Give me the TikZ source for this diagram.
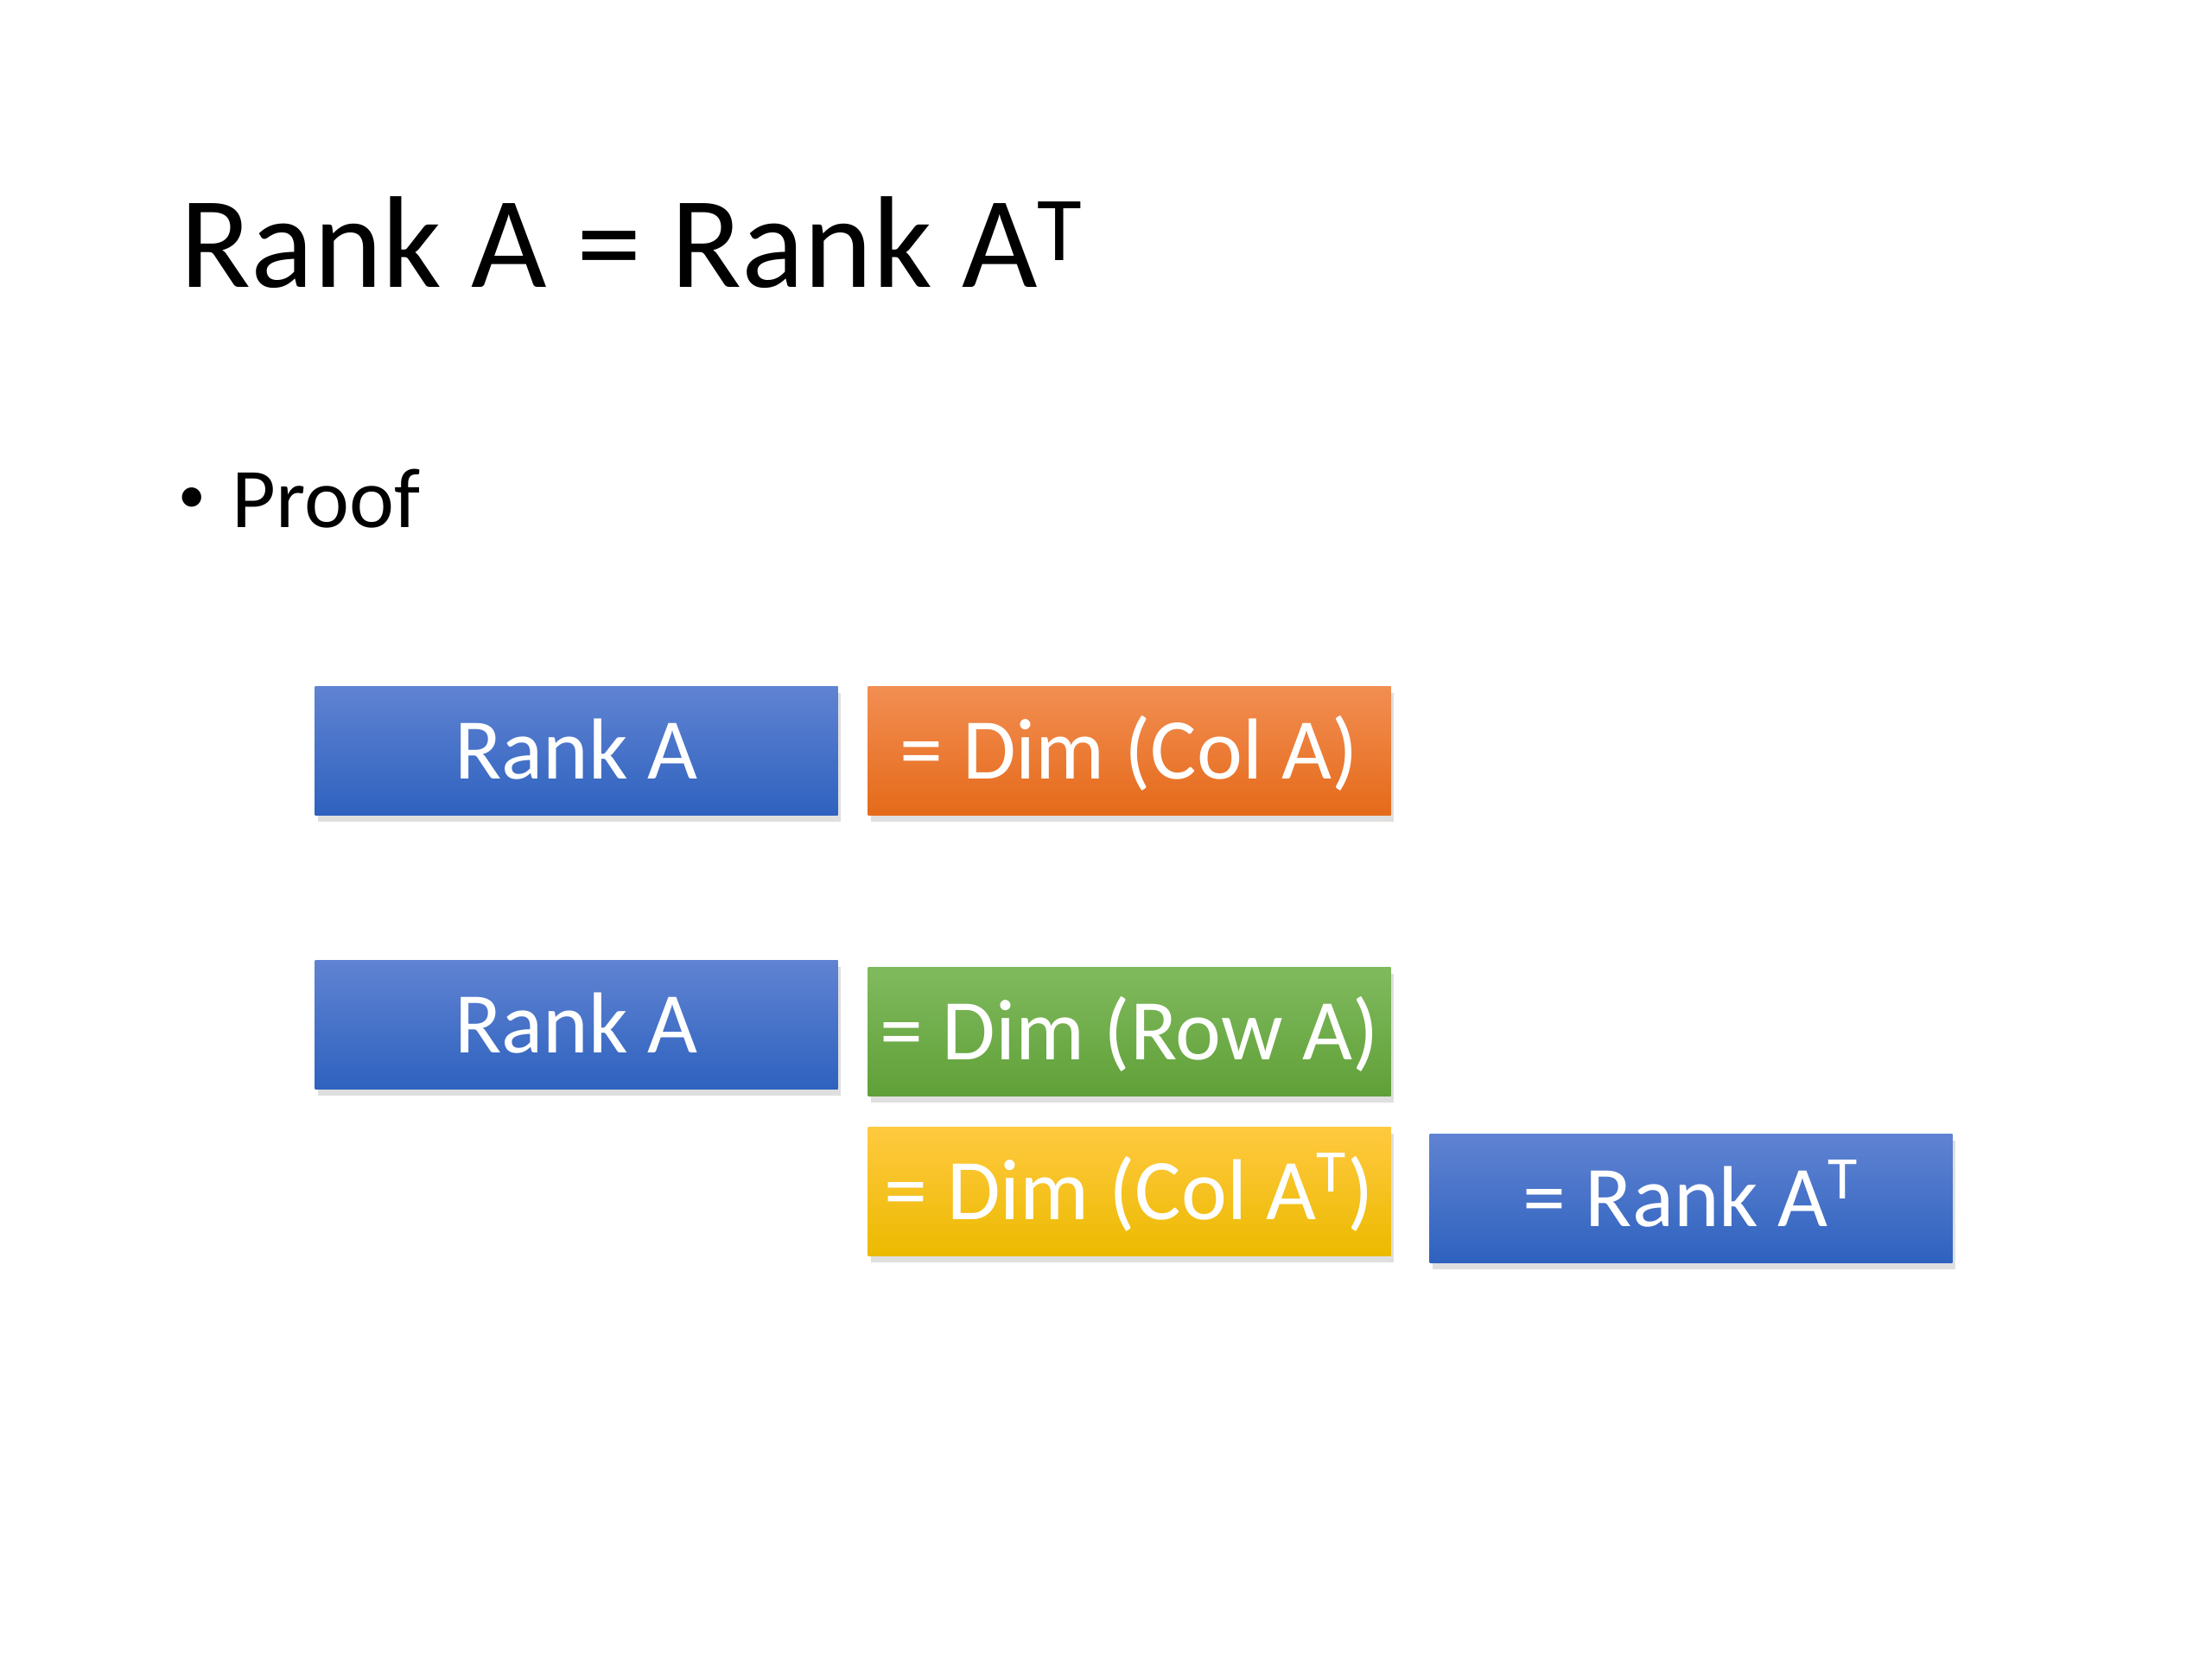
\documentclass[tikz,border=0pt]{standalone}
\usepackage{fontspec}
\setmainfont{Carlito}
\usetikzlibrary{shadows, positioning}
\definecolor{bluetop}{RGB}{96, 131, 210}
\definecolor{bluebot}{RGB}{46, 98, 191}
\definecolor{orangetop}{RGB}{242, 142, 82}
\definecolor{orangebot}{RGB}{229, 106, 26}
\definecolor{greentop}{RGB}{128, 186, 94}
\definecolor{greenbot}{RGB}{96, 160, 56}
\definecolor{yellowtop}{RGB}{255, 201, 64}
\definecolor{yellowbot}{RGB}{236, 186, 0}

\begin{document}
\begin{tikzpicture}[
    card/.style={minimum width=6.05cm, minimum height=1.49cm, inner sep=0pt,
        text=white, font=\fontsize{28.5}{30}\selectfont, text height=0.645cm, text depth=0pt,
        drop shadow={shadow xshift=0.03cm, shadow yshift=-0.07cm, opacity=0.25}},
    bluecard/.style={card, top color=bluetop, bottom color=bluebot},
    orangecard/.style={card, top color=orangetop, bottom color=orangebot},
    greencard/.style={card, top color=greentop, bottom color=greenbot},
    yellowcard/.style={card, top color=yellowtop, bottom color=yellowbot}
]
    % Page
    \fill[white] (0,0) rectangle (25.6,-19.2);
    \useasboundingbox (0,0) rectangle (25.6,-19.2);

    % Title and bullet
    \node[anchor=base west, inner sep=0pt, font=\fontsize{43}{46}\selectfont] (title) at (2.08,-3.33) {Rank A = Rank A\textsuperscript{T}};
    \node[anchor=base west, inner sep=0pt, font=\fontsize{18}{20}\selectfont] (bullet) at (2.06,-5.94) {•};
    \node[anchor=base west, inner sep=0pt, font=\fontsize{28}{30}\selectfont] (proof) at (2.68,-6.10) {Proof};

    % First line
    \node[bluecard] (rankA1) at (6.67,-8.69) {Rank A};
    \node[orangecard] (dimcol) at (13.07,-8.69) {= Dim (Col A)};

    % Second line
    \node[bluecard] (rankA2) at (6.67,-11.86) {Rank A};
    \node[greencard] (dimrow) at (13.07,-11.94) {= Dim (Row A)};
    \node[yellowcard] (dimcolT) at (13.07,-13.79) {= Dim (Col A\textsuperscript{T})};
    \node[bluecard] (rankAT) at (19.57,-13.87) {= Rank A\textsuperscript{T}};

\end{tikzpicture}
\end{document}
